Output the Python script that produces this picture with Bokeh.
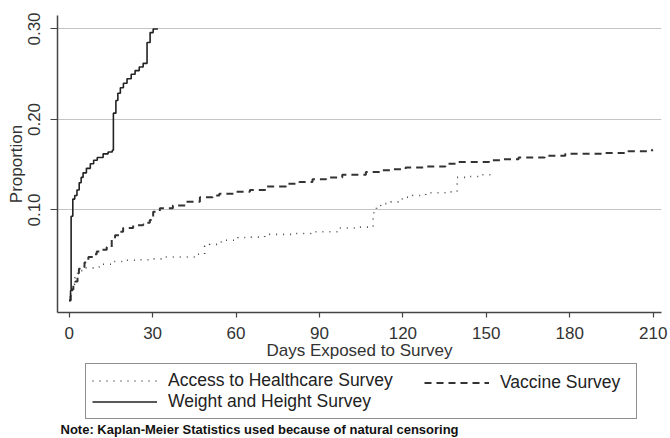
from bokeh.plotting import figure
from bokeh.layouts import column
from bokeh.models import (Range1d, FixedTicker, Legend, LegendItem, Label)
from bokeh.embed import file_html
from bokeh.resources import INLINE

# ---- data ----
access_days = [0, 0.5, 1, 2, 3, 5, 9.9, 12, 15.9, 20.7, 25.4, 29, 33.8, 45.7, 48.7, 50.5,
               54.7, 60.7, 65.5, 70.3, 80.4, 87, 97, 103, 109.3, 110.5, 112, 115.7, 119.8,
               123.4, 128.2, 136, 139.5, 142.5, 147.3, 151.5, 152.5]
access_prop = [0.0, 0.010, 0.018, 0.025, 0.033, 0.036, 0.037, 0.040, 0.043, 0.0445, 0.045, 0.046,
               0.048, 0.051, 0.060, 0.062, 0.0665, 0.0695, 0.070, 0.073, 0.074, 0.076, 0.080,
               0.081, 0.097, 0.105, 0.107, 0.109, 0.114, 0.116, 0.119, 0.120, 0.136, 0.137,
               0.139, 0.140, 0.140]

vaccine_days = [0, 0.5, 1, 1.5, 2.2, 3, 3.5, 4.5, 5.5, 6.9, 8.5, 9.9, 11.5, 13.5, 15.3, 16.5, 18,
                19.4, 23, 26.6, 28, 29, 30.2, 32.6, 37.3, 42.2, 47, 51.6, 54, 60, 65, 70.9, 78,
                82.8, 87.5, 92.4, 98.2, 106.7, 111.5, 116, 121, 128, 135.3, 140, 146, 151,
                155.6, 161.6, 166.4, 171, 178.4, 188, 192.7, 201, 208, 210]
vaccine_prop = [0.0, 0.005, 0.012, 0.018, 0.021, 0.030, 0.035, 0.037, 0.042, 0.048, 0.051, 0.054,
                0.056, 0.059, 0.068, 0.072, 0.076, 0.080, 0.083, 0.084, 0.086, 0.089, 0.098,
                0.102, 0.105, 0.109, 0.114, 0.116, 0.118, 0.120, 0.122, 0.126, 0.129, 0.131,
                0.134, 0.136, 0.139, 0.142, 0.144, 0.145, 0.147, 0.148, 0.151, 0.153, 0.153,
                0.155, 0.156, 0.158, 0.158, 0.160, 0.162, 0.162, 0.163, 0.165, 0.166, 0.166]

weight_days = [0, 0.5, 0.7, 1.3, 2.0, 2.8, 3.6, 4.3, 5.0, 6.2, 7.6, 8.8, 10.1, 12.2, 14.0, 15.5,
               15.9, 16.8, 17.5, 18.4, 19.5, 20.8, 22.3, 23.7, 25.2, 26.6, 28.0, 29.1, 30.2, 31.9]
weight_prop = [0.0, 0.011, 0.093, 0.112, 0.116, 0.122, 0.130, 0.136, 0.141, 0.146, 0.151, 0.155,
               0.158, 0.162, 0.164, 0.166, 0.207, 0.221, 0.229, 0.235, 0.240, 0.245, 0.250,
               0.254, 0.258, 0.262, 0.285, 0.296, 0.300, 0.300]

x_ticks = [0, 30, 60, 90, 120, 150, 180, 210]
y_ticks = [0.10, 0.20, 0.30]
y_tick_labels = {0.1: "0.10", 0.2: "0.20", 0.3: "0.30"}
series_labels = ["Access to Healthcare Survey", "Vaccine Survey", "Weight and Height Survey"]
x_title = "Days Exposed to Survey"
y_title = "Proportion"
note_text = "Note: Kaplan-Meier Statistics used because of natural censoring"

FONT = "Liberation Sans"
FS = "17px"
W = 670
H1 = 363
H2 = 438 - H1

STYLE_ACCESS = dict(line_color="#4a4a4a", line_width=1.6, line_dash="1 6")
STYLE_VACC = dict(line_color="#333333", line_width=2.0, line_dash="7 5")
STYLE_WEIGHT = dict(line_color="#222222", line_width=1.6)

# ---------------- main chart ----------------
p = figure(width=W, height=H1, output_backend="svg", toolbar_location=None,
           x_range=Range1d(-4.2, 213.0), y_range=Range1d(-0.0133, 0.3149),
           min_border_left=57, min_border_right=9, min_border_top=15, min_border_bottom=H1 - 312)
p.outline_line_color = None
p.background_fill_color = "white"
p.border_fill_color = "white"

p.step(access_days, access_prop, mode="after", **STYLE_ACCESS)
p.step(vaccine_days, vaccine_prop, mode="after", **STYLE_VACC)
p.step(weight_days, weight_prop, mode="after", **STYLE_WEIGHT)

for ax in (p.xaxis[0], p.yaxis[0]):
    ax.axis_line_color = "#444444"
    ax.axis_line_width = 1.5
    ax.major_tick_line_color = "#444444"
    ax.major_tick_line_width = 1.2
    ax.minor_tick_line_color = None
    ax.major_tick_in = 0
    ax.major_label_text_font = FONT
    ax.major_label_text_font_size = FS
    ax.major_label_text_color = "#333333"
    ax.axis_label_text_font = FONT
    ax.axis_label_text_font_size = FS
    ax.axis_label_text_font_style = "normal"
    ax.axis_label_text_color = "#333333"

p.xaxis.ticker = FixedTicker(ticks=x_ticks)
p.xaxis.axis_label = x_title
p.xaxis.major_tick_out = 5
p.xaxis.major_label_standoff = 9
p.xaxis.axis_label_standoff = -1

p.yaxis.ticker = FixedTicker(ticks=y_ticks)
p.yaxis.major_label_overrides = y_tick_labels
p.yaxis.axis_label = y_title
p.yaxis.major_tick_out = 7
p.yaxis.major_label_standoff = 10
p.yaxis.axis_label_standoff = 0
p.yaxis.major_label_orientation = "vertical"

p.xgrid.grid_line_color = None
p.ygrid.ticker = FixedTicker(ticks=y_ticks)
p.ygrid.grid_line_color = "#c4c4c4"
p.ygrid.grid_line_width = 1.2

# ---------------- legend + note strip ----------------
q = figure(width=W, height=H2, output_backend="svg", toolbar_location=None,
           x_range=Range1d(0, W), y_range=Range1d(0, H2),
           x_axis_location=None, y_axis_location=None,
           min_border=0, min_border_left=0, min_border_right=0,
           min_border_top=0, min_border_bottom=0)
q.outline_line_color = None
q.xgrid.visible = False
q.ygrid.visible = False
q.background_fill_color = "white"
q.border_fill_color = "white"

for fig in (p, q):
    if "frame_align" in fig.properties():
        fig.frame_align = False

# legend-only renderers (hidden; they just provide the legend glyph styles)
l_access = q.step(access_days, access_prop, mode="after", visible=False, **STYLE_ACCESS)
l_vacc = q.step(vaccine_days, vaccine_prop, mode="after", visible=False, **STYLE_VACC)
l_weight = q.step(weight_days, weight_prop, mode="after", visible=False, **STYLE_WEIGHT)

def style_legend(lg):
    lg.label_text_font = FONT
    lg.label_text_font_size = "17.5px"
    lg.label_text_color = "#222222"
    lg.glyph_width = 65
    lg.glyph_height = 21
    lg.label_height = 21
    lg.label_standoff = 11
    lg.spacing = 0
    lg.padding = 6
    lg.margin = 0
    lg.inactive_fill_alpha = 0.0

leg1 = Legend(items=[
    LegendItem(label=series_labels[0], renderers=[l_access]),
    LegendItem(label=series_labels[2], renderers=[l_weight]),
], location=(85, 19))
style_legend(leg1)
leg1.label_width = 462
leg1.border_line_color = "#222222"
leg1.border_line_width = 1.2
leg1.background_fill_color = "white"
leg1.background_fill_alpha = 1.0
q.add_layout(leg1)

leg2 = Legend(items=[
    LegendItem(label=series_labels[1], renderers=[l_vacc]),
], location=(424, 45))
style_legend(leg2)
leg2.border_line_color = None
leg2.background_fill_alpha = 0.0
q.add_layout(leg2)

q.add_layout(Label(x=60, y=9, x_units="screen", y_units="screen", text=note_text,
                   text_align="left", text_baseline="alphabetic",
                   text_font=FONT, text_font_size="13px",
                   text_font_style="bold", text_color="#111111"))

layout = column(p, q, spacing=0)
open("out.html", "w").write(file_html(layout, INLINE))
